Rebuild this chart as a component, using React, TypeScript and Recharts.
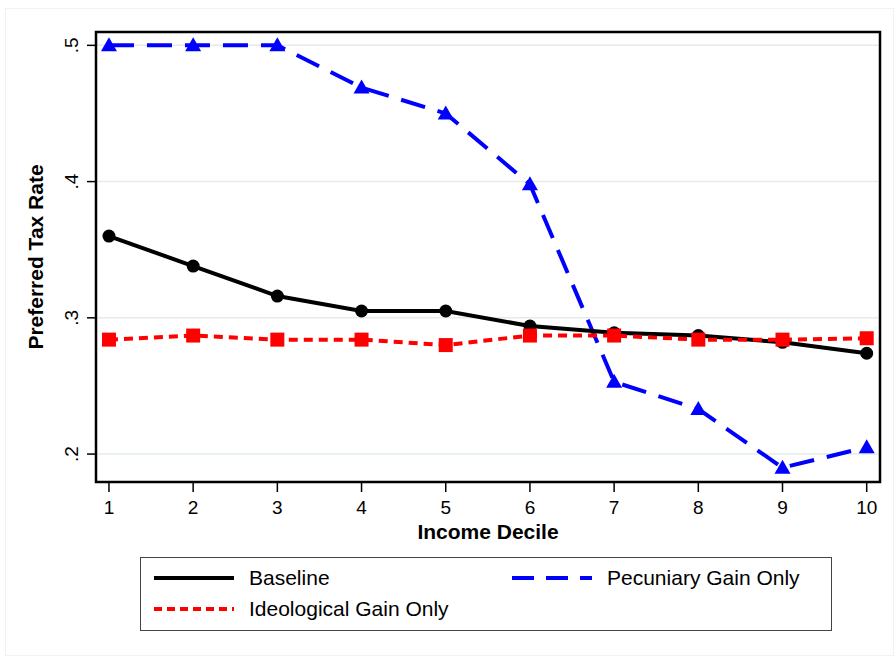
import { LineChart, Line, XAxis, YAxis, CartesianGrid, ReferenceArea } from 'recharts';

// income deciles and preferred tax rate per scenario
const deciles = [1, 2, 3, 4, 5, 6, 7, 8, 9, 10];
const baseline = [0.360, 0.338, 0.316, 0.305, 0.305, 0.294, 0.289, 0.287, 0.282, 0.274];
const pecuniary = [0.5, 0.5, 0.5, 0.469, 0.450, 0.398, 0.253, 0.233, 0.190, 0.205];
const ideological = [0.284, 0.287, 0.284, 0.284, 0.280, 0.287, 0.287, 0.284, 0.284, 0.285];

const yTicks = [0.2, 0.3, 0.4, 0.5];
const yTickLabels = ['.2', '.3', '.4', '.5'];

const data = deciles.map((d, i) => ({
  decile: d,
  baseline: baseline[i],
  pecuniary: pecuniary[i],
  ideological: ideological[i],
}));

const FONT = '"Liberation Sans", Arial, Helvetica, sans-serif';
const X_DOMAIN: [number, number] = [0.846, 10.158];
const Y_DOMAIN: [number, number] = [0.1795, 0.5098];

const CircleDot = (props: any) => {
  const { cx, cy, index } = props;
  if (cx == null || cy == null) return null;
  return <circle key={`c-${index}`} cx={cx} cy={cy} r={6.5} fill="#000" />;
};

const SquareDot = (props: any) => {
  const { cx, cy, index } = props;
  if (cx == null || cy == null) return null;
  return <rect key={`s-${index}`} x={cx - 7} y={cy - 7} width={14} height={14} fill="#ff0000" />;
};

const TriangleDot = (props: any) => {
  const { cx, cy, index } = props;
  if (cx == null || cy == null) return null;
  const s = 8;
  return (
    <polygon
      key={`t-${index}`}
      points={`${cx},${cy - s} ${cx - s},${cy + s * 0.75} ${cx + s},${cy + s * 0.75}`}
      fill="#0000ff"
    />
  );
};

const YTick = (props: any) => {
  const { x, y, payload } = props;
  const i = yTicks.indexOf(payload.value);
  const tx = x - 7;
  return (
    <text
      x={tx}
      y={y}
      transform={`rotate(-90, ${tx}, ${y})`}
      textAnchor="middle"
      fontSize={19}
      fontFamily={FONT}
      fill="#000"
    >
      {i >= 0 ? yTickLabels[i] : payload.value}
    </text>
  );
};

const XTick = (props: any) => {
  const { x, y, payload } = props;
  return (
    <text x={x} y={y + 20} textAnchor="middle" fontSize={19} fontFamily={FONT} fill="#000">
      {payload.value}
    </text>
  );
};

function LegendBox() {
  const row = (top: number, left: number, color: string, dash: string | undefined, label: string) => (
    <div style={{ position: 'absolute', left, top, display: 'flex', alignItems: 'center' }}>
      <svg width={84} height={8} style={{ marginRight: 13 }}>
        <line x1={2} y1={4} x2={82} y2={4} stroke={color} strokeWidth={4} strokeDasharray={dash} />
      </svg>
      <span style={{ fontSize: 21, fontFamily: FONT, color: '#000', lineHeight: '24px' }}>{label}</span>
    </div>
  );
  return (
    <div
      style={{
        position: 'absolute',
        left: 140,
        top: 557,
        width: 692,
        height: 74,
        border: '1px solid #444',
        boxSizing: 'border-box',
      }}
    >
      {row(8, 11, '#000', undefined, 'Baseline')}
      {row(8, 369, '#0000ff', '22 12', 'Pecuniary Gain Only')}
      {row(39, 11, '#ff0000', '8 5', 'Ideological Gain Only')}
    </div>
  );
}

export default function App() {
  return (
    <div style={{ position: 'absolute', left: 0, top: 0, width: 894, height: 656, background: '#fff' }}>
      <div
        style={{
          position: 'absolute',
          left: 5,
          top: 8,
          width: 889,
          height: 648,
          border: '1px solid #f2f2f2',
          boxSizing: 'border-box',
        }}
      />
      <LineChart
        width={894}
        height={656}
        data={data}
        margin={{ top: 32, right: 14, left: 0, bottom: 114 }}
        style={{ position: 'absolute', left: 0, top: 0 }}
      >
        <CartesianGrid horizontal vertical={false} stroke="#e3eced" strokeWidth={1.5} />
        <XAxis
          dataKey="decile"
          type="number"
          domain={X_DOMAIN}
          ticks={deciles}
          allowDataOverflow
          axisLine={false}
          tickLine={{ stroke: '#000', strokeWidth: 1.5 }}
          tickSize={10}
          tick={<XTick />}
          height={60}
          interval={0}
          label={{
            value: 'Income Decile',
            position: 'insideBottom',
            offset: 3,
            fontSize: 21,
            fontWeight: 'bold',
            fontFamily: FONT,
            fill: '#000',
          }}
        />
        <YAxis
          type="number"
          domain={Y_DOMAIN}
          ticks={yTicks}
          allowDataOverflow
          axisLine={false}
          tickLine={{ stroke: '#000', strokeWidth: 1.5 }}
          tickSize={9}
          tick={<YTick />}
          width={96}
          interval={0}
          label={{
            value: 'Preferred Tax Rate',
            angle: -90,
            position: 'insideLeft',
            offset: 36,
            style: { textAnchor: 'middle' },
            fontSize: 21,
            fontWeight: 'bold',
            fontFamily: FONT,
            fill: '#000',
          }}
        />
        <ReferenceArea
          x1={X_DOMAIN[0]}
          x2={X_DOMAIN[1]}
          y1={Y_DOMAIN[0]}
          y2={Y_DOMAIN[1]}
          fill="none"
          fillOpacity={0}
          stroke="#000"
          strokeWidth={2.5}
          ifOverflow="visible"
        />
        <Line
          dataKey="pecuniary"
          stroke="#0000ff"
          strokeWidth={4}
          strokeDasharray="25 13"
          dot={<TriangleDot />}
          activeDot={false}
          isAnimationActive={false}
        />
        <Line
          dataKey="baseline"
          stroke="#000"
          strokeWidth={4}
          dot={<CircleDot />}
          activeDot={false}
          isAnimationActive={false}
        />
        <Line
          dataKey="ideological"
          stroke="#ff0000"
          strokeWidth={4}
          strokeDasharray="9 6"
          dot={<SquareDot />}
          activeDot={false}
          isAnimationActive={false}
        />
      </LineChart>
      <LegendBox />
    </div>
  );
}
